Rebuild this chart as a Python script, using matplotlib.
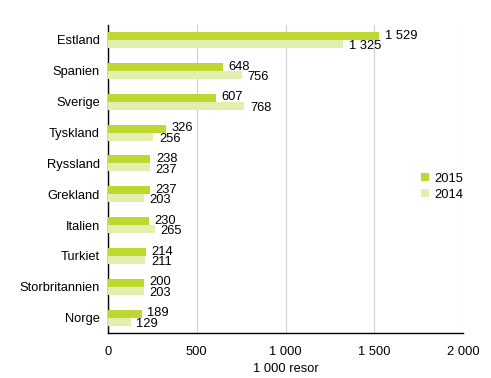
import numpy as np
import matplotlib.pyplot as plt

plt.rcParams['font.family'] = ['Liberation Sans', 'DejaVu Sans']

countries = ["Estland", "Spanien", "Sverige", "Tyskland", "Ryssland",
             "Grekland", "Italien", "Turkiet", "Storbritannien", "Norge"]
v2015 = [1529, 648, 607, 326, 238, 237, 230, 214, 200, 189]
v2014 = [1325, 756, 768, 256, 237, 203, 265, 211, 203, 129]
xticks = [0, 500, 1000, 1500, 2000]
xticklabels = ["0", "500", "1 000", "1 500", "2 000"]

c15 = "#bfd730"
c14 = "#e2efae"


def fmt(v):
    return f"{v:,}".replace(",", " ")


fig = plt.figure(figsize=(4.91, 3.78), dpi=100)
ax = fig.add_axes([0.22, 0.119, 0.723, 0.816])

y = np.arange(len(countries))
h = 0.26
ax.barh(y - h / 2, v2015, height=h, color=c15, label="2015", zorder=3)
ax.barh(y + h / 2, v2014, height=h, color=c14, label="2014", zorder=3)

for yi, a, b in zip(y, v2015, v2014):
    ax.annotate(fmt(a), (a, yi - 0.14), xytext=(4, 0), textcoords="offset points",
                va="center", ha="left", fontsize=9.3, zorder=4)
    ax.annotate(fmt(b), (b, yi + 0.2), xytext=(4, 0), textcoords="offset points",
                va="center", ha="left", fontsize=9.3, zorder=4)

ax.set_ylim(len(countries) - 0.5, -0.5)
ax.set_xlim(0, 2000)
ax.set_yticks(y)
ax.set_yticklabels(countries, fontsize=9.3)
ax.set_xticks(xticks)
ax.set_xticklabels(xticklabels, fontsize=9.3)
ax.tick_params(length=0, pad=6)
ax.tick_params(axis="x", pad=9)
ax.xaxis.grid(True, color="#d0d0d0", linewidth=0.8, zorder=0)
ax.set_xlabel("1 000 resor", fontsize=9.3, labelpad=4)
for s in ["top", "right"]:
    ax.spines[s].set_visible(False)
for s in ["left", "bottom"]:
    ax.spines[s].set_color("black")
    ax.spines[s].set_linewidth(1)

ax.legend(loc="center left", bbox_to_anchor=(0.85, 0.474), frameon=False,
          fontsize=9.3, handlelength=0.6, handleheight=0.6, handletextpad=0.4,
          labelspacing=0.3)

fig.savefig("out.png", dpi=100)
